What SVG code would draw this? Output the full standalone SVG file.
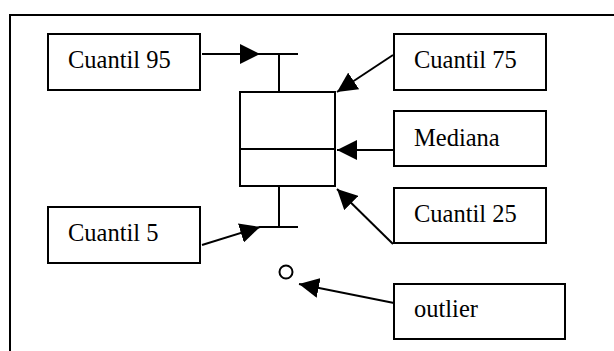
<svg xmlns="http://www.w3.org/2000/svg" width="614" height="351" viewBox="0 0 614 351">
<style>
.box{fill:#fff;stroke:#000;stroke-width:2}
.lbl{font-family:"Liberation Serif","Times New Roman",serif;font-size:24.5px;fill:#000}
.ln{stroke:#000;stroke-width:2;fill:none}
.conn{stroke:#000;stroke-width:2;fill:none;marker-end:url(#ah)}
</style>
<defs>
<marker id="ah" viewBox="0 0 20 20" refX="20" refY="10" markerWidth="20" markerHeight="20" markerUnits="userSpaceOnUse" orient="auto">
<path d="M0,0 L20,10 L0,20 Z" fill="#000"/>
</marker>
</defs>
<rect width="614" height="351" fill="#fff"/>
<path class="ln" d="M10,351 V15 H614"/>
<g id="boxplot">
<rect class="box" x="240" y="92" width="95" height="94"/>
<line class="ln" x1="240" y1="149" x2="335" y2="149" stroke-width="3"/>
<line class="ln" x1="279" y1="54" x2="279" y2="92"/>
<line class="ln" x1="259" y1="54" x2="298" y2="54"/>
<line class="ln" x1="279" y1="186" x2="279" y2="227"/>
<line class="ln" x1="259" y1="227" x2="298" y2="227"/>
<circle class="ln" cx="286" cy="272" r="6.5"/>
</g>
<g id="n-c95">
<rect class="box" x="48" y="34" width="152" height="56"/>
<text class="lbl" x="68" y="68">Cuantil 95</text>
</g>
<g id="n-c75">
<rect class="box" x="394" y="34" width="152" height="56"/>
<text class="lbl" x="414" y="68">Cuantil 75</text>
</g>
<g id="n-med">
<rect class="box" x="394" y="111" width="152" height="55"/>
<text class="lbl" x="414" y="146">Mediana</text>
</g>
<g id="n-c25">
<rect class="box" x="394" y="188" width="152" height="55"/>
<text class="lbl" x="414" y="222">Cuantil 25</text>
</g>
<g id="n-c5">
<rect class="box" x="48" y="207" width="152" height="56"/>
<text class="lbl" x="68" y="241">Cuantil 5</text>
</g>
<g id="n-out">
<rect class="box" x="394" y="284" width="171" height="55"/>
<text class="lbl" x="414" y="317">outlier</text>
</g>
<g id="connectors">
<line class="conn" x1="202" y1="54" x2="260" y2="54"/>
<line class="conn" x1="393" y1="55" x2="337" y2="92"/>
<line class="conn" x1="394" y1="150" x2="337" y2="150"/>
<line class="conn" x1="393" y1="244" x2="337" y2="189"/>
<line class="conn" x1="202" y1="245" x2="260" y2="227"/>
<line class="conn" x1="394" y1="303" x2="299" y2="284"/>
</g>
</svg>
